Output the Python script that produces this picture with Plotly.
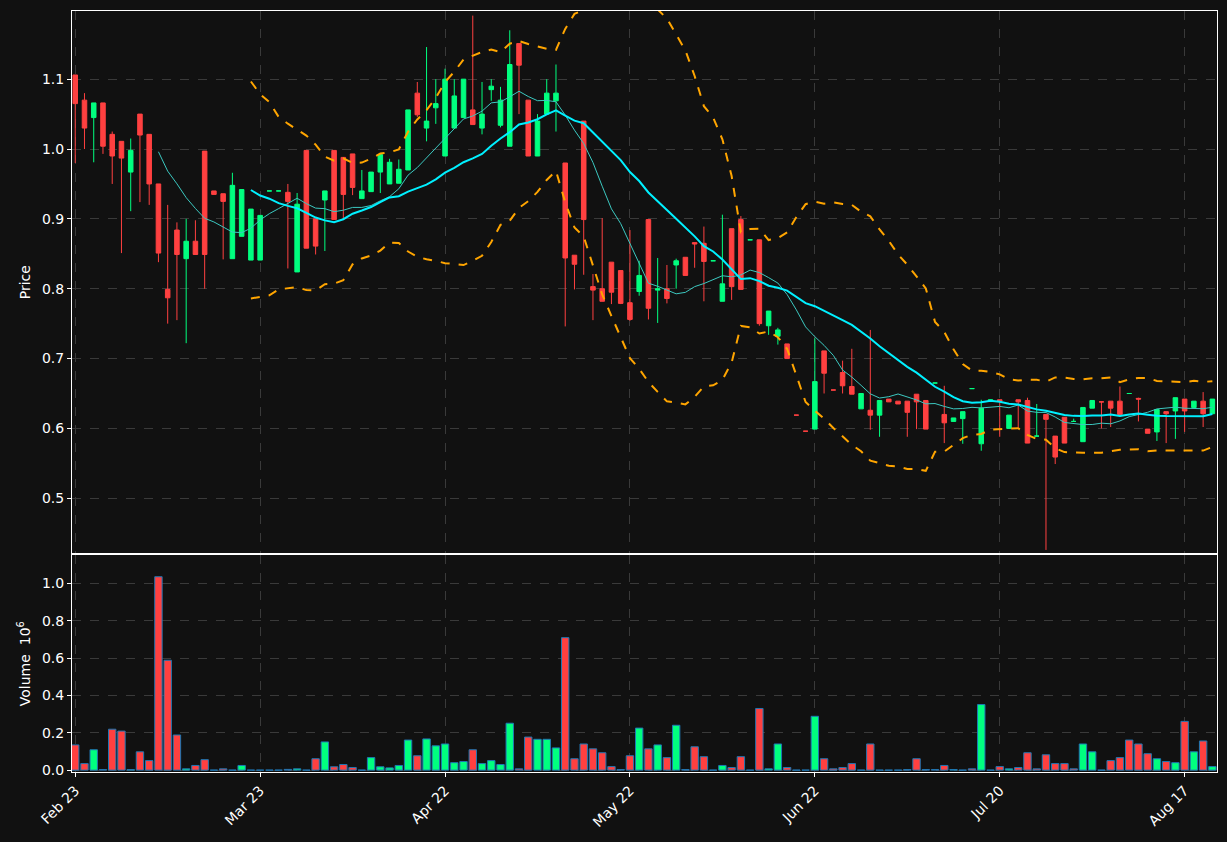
import pandas as pd
import plotly.graph_objects as go
from plotly.subplots import make_subplots

# daily bars
tick_labels = ["Feb 23", "Mar 23", "Apr 22", "May 22", "Jun 22", "Jul 20", "Aug 17"]

opens = [1.106, 1.070, 1.045, 1.066, 1.021, 1.011, 0.967, 1.050, 1.021, 0.950,
         0.799, 0.884, 0.843, 0.868, 0.997, 0.940, 0.936, 0.843, 0.875, 0.841,
         0.841, 0.940, 0.940, 0.938, 0.824, 0.998, 0.900, 0.927, 0.998, 0.988,
         0.993, 0.929, 0.939, 0.967, 0.950, 0.951, 0.970, 1.080, 1.030, 1.059,
         0.990, 1.030, 1.045, 1.056, 1.030, 1.085, 1.034, 1.004, 1.151, 1.070,
         0.990, 1.050, 1.069, 0.980, 0.848, 1.040, 0.803, 0.800, 0.838, 0.826,
         0.780, 0.796, 0.899, 0.798, 0.800, 0.834, 0.845, 0.866, 0.865, 0.840,
         0.782, 0.886, 0.899, 0.870, 0.870, 0.747, 0.732, 0.721, 0.619, 0.596,
         0.599, 0.711, 0.655, 0.680, 0.660, 0.628, 0.626, 0.619, 0.642, 0.639,
         0.639, 0.649, 0.640, 0.665, 0.620, 0.610, 0.614, 0.657, 0.578, 0.639,
         0.641, 0.600, 0.641, 0.640, 0.589, 0.620, 0.589, 0.616, 0.610, 0.581,
         0.629, 0.638, 0.639, 0.639, 0.650, 0.643, 0.599, 0.595, 0.624, 0.625,
         0.642, 0.630, 0.639, 0.621]
highs = [1.106, 1.080, 1.066, 1.066, 1.025, 1.011, 1.015, 1.050, 1.021, 0.950,
         0.920, 0.895, 0.900, 0.898, 0.997, 0.940, 0.936, 0.966, 0.942, 0.914,
         0.905, 0.940, 0.940, 0.950, 0.937, 0.998, 0.900, 0.940, 0.998, 0.988,
         0.993, 0.970, 0.967, 0.992, 0.986, 0.985, 1.056, 1.096, 1.146, 1.100,
         1.115, 1.100, 1.100, 1.191, 1.096, 1.100, 1.089, 1.170, 1.151, 1.070,
         1.050, 1.100, 1.121, 0.980, 0.848, 1.040, 0.821, 0.901, 0.838, 0.826,
         0.884, 0.840, 0.899, 0.844, 0.834, 0.843, 0.845, 0.866, 0.889, 0.840,
         0.906, 0.886, 0.904, 0.870, 0.870, 0.768, 0.744, 0.721, 0.619, 0.596,
         0.729, 0.711, 0.655, 0.697, 0.714, 0.650, 0.741, 0.640, 0.642, 0.639,
         0.639, 0.649, 0.640, 0.665, 0.661, 0.615, 0.624, 0.657, 0.641, 0.641,
         0.641, 0.619, 0.641, 0.644, 0.635, 0.620, 0.589, 0.616, 0.614, 0.630,
         0.640, 0.638, 0.639, 0.660, 0.650, 0.644, 0.599, 0.627, 0.624, 0.644,
         0.642, 0.639, 0.652, 0.642]
lows = [0.980, 1.000, 0.981, 0.993, 0.950, 0.851, 0.911, 0.924, 0.920, 0.838,
        0.750, 0.755, 0.722, 0.849, 0.800, 0.935, 0.842, 0.843, 0.875, 0.841,
        0.841, 0.940, 0.940, 0.829, 0.824, 0.858, 0.849, 0.854, 0.899, 0.900,
        0.934, 0.929, 0.939, 0.937, 0.950, 0.951, 0.970, 1.046, 1.011, 1.036,
        0.990, 1.030, 1.045, 1.035, 1.021, 1.069, 1.031, 1.004, 1.050, 0.990,
        0.990, 1.050, 1.025, 0.746, 0.799, 0.820, 0.755, 0.782, 0.778, 0.778,
        0.754, 0.790, 0.756, 0.751, 0.779, 0.800, 0.819, 0.830, 0.782, 0.840,
        0.782, 0.784, 0.799, 0.870, 0.747, 0.734, 0.720, 0.700, 0.619, 0.596,
        0.599, 0.650, 0.655, 0.650, 0.649, 0.628, 0.598, 0.588, 0.638, 0.635,
        0.588, 0.599, 0.599, 0.665, 0.579, 0.610, 0.578, 0.657, 0.568, 0.639,
        0.588, 0.600, 0.601, 0.579, 0.589, 0.426, 0.549, 0.579, 0.610, 0.581,
        0.629, 0.600, 0.602, 0.620, 0.650, 0.610, 0.593, 0.582, 0.579, 0.585,
        0.595, 0.630, 0.602, 0.621]
closes = [1.065, 1.030, 1.066, 1.004, 0.990, 0.987, 0.998, 1.020, 0.950, 0.851,
          0.787, 0.849, 0.868, 0.849, 0.849, 0.935, 0.925, 0.948, 0.942, 0.914,
          0.905, 0.940, 0.940, 0.925, 0.921, 0.858, 0.861, 0.940, 0.899, 0.935,
          0.945, 0.940, 0.967, 0.992, 0.981, 0.971, 1.056, 1.049, 1.040, 1.065,
          1.100, 1.076, 1.100, 1.035, 1.050, 1.090, 1.070, 1.121, 1.120, 0.990,
          1.040, 1.080, 1.080, 0.844, 0.835, 0.899, 0.798, 0.782, 0.795, 0.779,
          0.756, 0.819, 0.772, 0.800, 0.786, 0.840, 0.819, 0.864, 0.839, 0.840,
          0.807, 0.803, 0.799, 0.870, 0.750, 0.768, 0.741, 0.700, 0.619, 0.596,
          0.667, 0.679, 0.655, 0.661, 0.649, 0.650, 0.619, 0.640, 0.638, 0.635,
          0.623, 0.638, 0.599, 0.665, 0.608, 0.615, 0.624, 0.657, 0.629, 0.641,
          0.639, 0.619, 0.638, 0.579, 0.589, 0.613, 0.559, 0.579, 0.610, 0.630,
          0.640, 0.638, 0.629, 0.620, 0.650, 0.642, 0.593, 0.627, 0.621, 0.644,
          0.625, 0.639, 0.621, 0.642]
# volume in millions
volumes = [0.135, 0.035, 0.109, 0.003, 0.219, 0.209, 0.003, 0.098, 0.051, 1.035,
           0.588, 0.188, 0.007, 0.025, 0.056, 0.000, 0.007, 0.000, 0.025, 0.000,
           0.000, 0.000, 0.000, 0.004, 0.007, 0.000, 0.061, 0.151, 0.018, 0.030,
           0.014, 0.000, 0.067, 0.018, 0.012, 0.025, 0.161, 0.077, 0.167, 0.130,
           0.140, 0.040, 0.046, 0.109, 0.035, 0.051, 0.030, 0.251, 0.007, 0.177,
           0.165, 0.165, 0.119, 0.709, 0.061, 0.140, 0.114, 0.093, 0.019, 0.003,
           0.077, 0.225, 0.114, 0.135, 0.067, 0.240, 0.003, 0.125, 0.072, 0.000,
           0.025, 0.014, 0.072, 0.000, 0.330, 0.007, 0.140, 0.014, 0.000, 0.000,
           0.288, 0.061, 0.007, 0.014, 0.035, 0.000, 0.140, 0.000, 0.000, 0.000,
           0.003, 0.061, 0.003, 0.003, 0.025, 0.003, 0.000, 0.007, 0.351, 0.000,
           0.019, 0.007, 0.014, 0.093, 0.007, 0.082, 0.035, 0.035, 0.007, 0.140,
           0.098, 0.000, 0.051, 0.067, 0.161, 0.140, 0.088, 0.061, 0.046, 0.040,
           0.261, 0.098, 0.156, 0.019]

UP = "#00ff7f"
DOWN = "#ff4040"
GRID = "#3a3a3a"
FONT = "DejaVu Sans"

idx = list(range(len(closes)))
close_s = pd.Series(closes)
ma10 = close_s.rolling(10).mean()
ma20 = close_s.rolling(20).mean()
sd20 = close_s.rolling(20).std(ddof=0)
bb_up = ma20 + 2 * sd20
bb_lo = ma20 - 2 * sd20

vol_colors = [UP if c > o else DOWN for o, c in zip(opens, closes)]

fig = make_subplots(rows=2, cols=1, shared_xaxes=True, vertical_spacing=0.0026,
                    row_heights=[0.7128, 0.2846])

fig.add_trace(go.Candlestick(
    x=idx, open=opens, high=highs, low=lows, close=closes,
    increasing=dict(line=dict(color=UP, width=1), fillcolor=UP),
    decreasing=dict(line=dict(color=DOWN, width=1), fillcolor=DOWN),
    whiskerwidth=0, showlegend=False, hoverinfo="skip"), row=1, col=1)

fig.add_trace(go.Scatter(x=idx, y=bb_up, mode="lines",
                         line=dict(color="#ffa500", width=2, dash="dash"),
                         showlegend=False), row=1, col=1)
fig.add_trace(go.Scatter(x=idx, y=bb_lo, mode="lines",
                         line=dict(color="#ffa500", width=2, dash="dash"),
                         showlegend=False), row=1, col=1)
fig.add_trace(go.Scatter(x=idx, y=ma10, mode="lines",
                         line=dict(color="#3cc8c0", width=1),
                         showlegend=False), row=1, col=1)
fig.add_trace(go.Scatter(x=idx, y=ma20, mode="lines",
                         line=dict(color="#00f0ff", width=2),
                         showlegend=False), row=1, col=1)

fig.add_trace(go.Bar(x=idx, y=volumes, width=0.8,
                     marker=dict(color=vol_colors, line=dict(color="#1f77b4", width=1)),
                     showlegend=False), row=2, col=1)

axis_common = dict(showline=True, linecolor="white", linewidth=1, mirror=True,
                   gridcolor=GRID, griddash="dash", zeroline=False,
                   tickfont=dict(color="white", size=14, family=FONT),
                   ticks="outside", tickcolor="white", ticklen=4)

fig.update_xaxes(**axis_common, range=[-0.35, 123.5],
                 tickmode="array", tickvals=list(range(0, 121, 20)),
                 ticktext=tick_labels, rangeslider_visible=False)
fig.update_xaxes(showticklabels=False, row=1, col=1)
fig.update_xaxes(tickangle=-45, row=2, col=1)

fig.update_yaxes(**axis_common)
fig.update_yaxes(range=[0.421, 1.1976], tickvals=[0.5, 0.6, 0.7, 0.8, 0.9, 1.0, 1.1],
                 tickformat=".1f", row=1, col=1,
                 title=dict(text="Price", font=dict(color="white", size=14, family=FONT),
                            standoff=8))
fig.update_yaxes(range=[-0.01, 1.149], tickvals=[0, 0.2, 0.4, 0.6, 0.8, 1.0],
                 tickformat=".1f", row=2, col=1,
                 title=dict(text="Volume  10<sup>6</sup>",
                            font=dict(color="white", size=14, family=FONT), standoff=8))

fig.update_layout(
    width=1227, height=842,
    margin=dict(l=72, r=10, t=11, b=70),
    paper_bgcolor="#111111", plot_bgcolor="#111111",
    font=dict(family=FONT, color="white"),
    bargap=0.2,
)

# page body has a default margin; drop it so the figure fills the window
fig.write_html("out.html", config={"displayModeBar": False},
               post_script="document.body.style.margin='0';"
                           "document.body.style.background='#111111';")
